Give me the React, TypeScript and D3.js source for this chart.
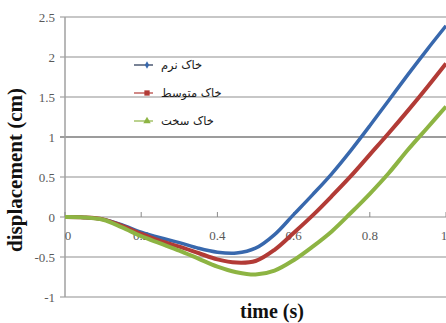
import React from 'react'
import * as d3 from 'd3'

// time (s)
const times = [0, 0.05, 0.1, 0.15, 0.2, 0.25, 0.3, 0.35, 0.4, 0.45, 0.5, 0.55, 0.6, 0.65, 0.7, 0.75, 0.8, 0.85, 0.9, 0.95, 1]
// displacement (cm)
const soft = [0, -0.005, -0.03, -0.1, -0.19, -0.26, -0.32, -0.39, -0.44, -0.45, -0.39, -0.22, 0.03, 0.28, 0.54, 0.83, 1.14, 1.46, 1.78, 2.09, 2.39]
const medium = [0, -0.005, -0.03, -0.11, -0.21, -0.3, -0.37, -0.45, -0.53, -0.57, -0.55, -0.41, -0.2, 0.02, 0.26, 0.51, 0.78, 1.05, 1.33, 1.62, 1.92]
const hard = [0, -0.005, -0.035, -0.13, -0.24, -0.33, -0.42, -0.52, -0.62, -0.69, -0.72, -0.67, -0.54, -0.37, -0.18, 0.05, 0.29, 0.55, 0.84, 1.11, 1.38]

const seriesNames = ['خاک نرم', 'خاک متوسط', 'خاک سخت']
const yTicks = [2.5, 2, 1.5, 1, 0.5, 0, -0.5, -1]
const xTicks = [0, 0.2, 0.4, 0.6, 0.8, 1]

const W = 446
const H = 323
const margin = { top: 17, right: 0, bottom: 26, left: 65 }

const App = () => {
  const x = d3.scaleLinear().domain([0, 1]).range([margin.left, W - margin.right])
  const y = d3.scaleLinear().domain([-1, 2.5]).range([H - margin.bottom, margin.top])

  const series = [
    { name: seriesNames[0], values: soft, color: '#3868ad', marker: 'diamond', width: 3.5 },
    { name: seriesNames[1], values: medium, color: '#b23b36', marker: 'square', width: 4 },
    { name: seriesNames[2], values: hard, color: '#8db443', marker: 'triangle', width: 4 }
  ]

  const line = d3.line<number>()
    .x((d, i) => x(times[i]))
    .y((d) => y(d))
    .curve(d3.curveCatmullRom.alpha(0.5))

  const symbolFor = (m: string) => {
    if (m === 'diamond') return d3.symbol().type(d3.symbolDiamond).size(16)()
    if (m === 'square') return d3.symbol().type(d3.symbolSquare).size(28)()
    return d3.symbol().type(d3.symbolTriangle).size(24)()
  }

  const serif = '"Liberation Serif", "DejaVu Serif", serif'

  return (
    <div style={{ position: 'absolute', left: 0, top: 0 }}>
      <svg width={W} height={H} style={{ display: 'block', background: '#fff' }}>
        {/* grid */}
        {yTicks.map((t) => (
          <g key={'y' + t}>
            <line x1={x(0) - 5} x2={W} y1={y(t)} y2={y(t)}
              stroke={t === 1 ? '#3a3a3a' : '#b4b4b4'} strokeWidth={t === 1 ? 1.2 : 1.5} />
            <text x={x(0) - 10} y={y(t) + 4.5} textAnchor="end" fontFamily={serif}
              fontSize={13} fill="#595959">{t}</text>
          </g>
        ))}
        {/* y axis */}
        <line x1={x(0)} x2={x(0)} y1={y(2.5)} y2={y(-1)} stroke="#a0a0a0" strokeWidth={1.5} />
        {/* x axis at zero */}
        {xTicks.map((t) => (
          <g key={'x' + t}>
            <line x1={x(t)} x2={x(t)} y1={y(0)} y2={y(0) - 5} stroke="#8a8a8a" strokeWidth={1} />
            <text x={x(t) + (t === 0 ? 3 : t === 1 ? -2 : 0)} y={y(0) + 23} textAnchor="middle" fontFamily={serif}
              fontSize={13} fill="#595959">{t}</text>
          </g>
        ))}
        {/* series */}
        {series.map((s) => (
          <path key={s.name} d={line(s.values) || ''} fill="none" stroke={s.color}
            strokeWidth={s.width} strokeLinejoin="round" />
        ))}
        {/* legend */}
        {series.map((s, i) => {
          const ly = 65 + i * 28
          return (
            <g key={'lg' + i}>
              <line x1={134} x2={153} y1={ly} y2={ly} stroke={i === 0 ? '#1f3050' : s.color} strokeWidth={1.2} />
              <path d={symbolFor(s.marker) || ''} transform={`translate(147,${ly})`} fill={s.color} />
              <text x={161} y={ly + 3.5} fontFamily='"DejaVu Sans", sans-serif' fontSize={11.5}
                fill="#1a1a1a" direction="rtl" textAnchor="end" style={{ direction: 'rtl' }}>{s.name}</text>
            </g>
          )
        })}
        {/* axis titles */}
        <text transform={`translate(22,${170}) rotate(-90)`} textAnchor="middle" fontFamily={serif}
          fontWeight="bold" fontSize={21} fill="#111">displacement (cm)</text>
        <text x={272} y={318} textAnchor="middle" fontFamily={serif} fontWeight="bold"
          fontSize={20} fill="#111">time (s)</text>
      </svg>
    </div>
  )
}

export default App
